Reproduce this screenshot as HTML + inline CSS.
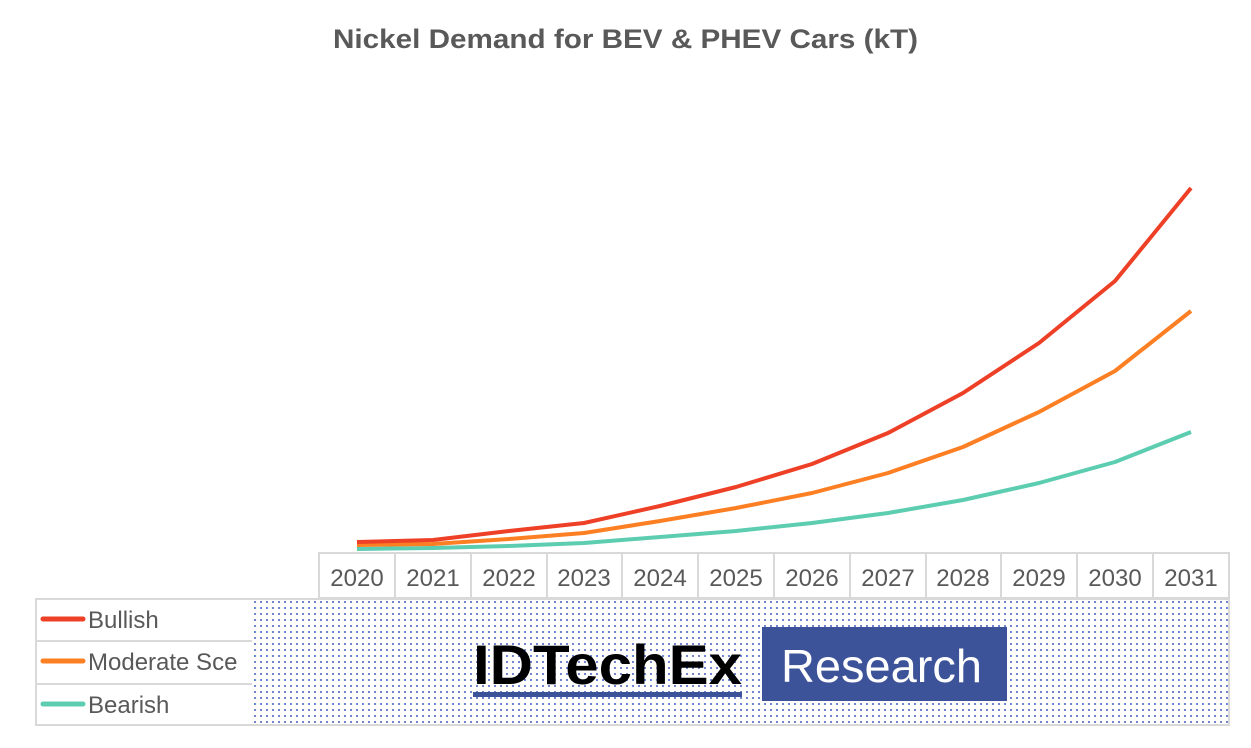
<!DOCTYPE html>
<html><head><style>
body{margin:0;background:#fff;width:1251px;height:748px;overflow:hidden;position:relative;font-family:"Liberation Sans",sans-serif;}
.dots{position:absolute;left:252px;top:599px;width:977px;height:126px;background-image:radial-gradient(circle,#4a63c0 0.8px,transparent 1.1px);background-size:6px 6px;}
</style></head><body>
<div class="dots"></div>
<svg width="1251" height="748" style="position:absolute;left:0;top:0">
<text x="333" y="48" font-size="27" font-weight="bold" fill="#595959" textLength="585" lengthAdjust="spacingAndGlyphs" font-family="Liberation Sans">Nickel Demand for BEV &amp; PHEV Cars (kT)</text>
<g stroke="#d9d9d9" stroke-width="2" fill="none">
<rect x="319" y="553" width="910" height="45"/>
<rect x="36" y="599" width="1193" height="126"/>
<line x1="36" y1="641" x2="252" y2="641"/>
<line x1="36" y1="684" x2="252" y2="684"/>
</g>
<g stroke="#d9d9d9" stroke-width="2">
<line x1="395" y1="553" x2="395" y2="598"/><line x1="471" y1="553" x2="471" y2="598"/><line x1="547" y1="553" x2="547" y2="598"/><line x1="622" y1="553" x2="622" y2="598"/><line x1="698" y1="553" x2="698" y2="598"/><line x1="774" y1="553" x2="774" y2="598"/><line x1="850" y1="553" x2="850" y2="598"/><line x1="926" y1="553" x2="926" y2="598"/><line x1="1001" y1="553" x2="1001" y2="598"/><line x1="1077" y1="553" x2="1077" y2="598"/><line x1="1153" y1="553" x2="1153" y2="598"/>
</g>
<g font-size="24" fill="#595959" text-anchor="middle" font-family="Liberation Sans">
<text x="357" y="586">2020</text><text x="433" y="586">2021</text><text x="509" y="586">2022</text><text x="584" y="586">2023</text><text x="660" y="586">2024</text><text x="736" y="586">2025</text><text x="812" y="586">2026</text><text x="888" y="586">2027</text><text x="963" y="586">2028</text><text x="1039" y="586">2029</text><text x="1115" y="586">2030</text><text x="1191" y="586">2031</text>
</g>
<g fill="none" stroke-width="4" stroke-linejoin="round">
<polyline stroke="#5ccdb0" points="357,549 433,548 509,546 584,543 660,537 736,531 812,523 888,513 963,500 1039,483 1115,462 1191,432"/>
<polyline stroke="#fd7f23" points="357,545 433,544 509,539 584,533 660,521 736,508 812,493 888,473 963,447 1039,412 1115,371 1191,311"/>
<polyline stroke="#ee4026" points="357,542 433,540 509,531 584,523 660,506 736,487 812,464 888,433 963,393 1039,343 1115,281 1191,188"/>
</g>
<g stroke-width="5" stroke-linecap="round">
<line x1="43" y1="619" x2="83" y2="619" stroke="#ee4026"/>
<line x1="43" y1="661" x2="83" y2="661" stroke="#fd7f23"/>
<line x1="43" y1="704" x2="83" y2="704" stroke="#5ccdb0"/>
</g>
<g font-size="24" fill="#595959" font-family="Liberation Sans">
<text x="88" y="628">Bullish</text>
<text x="88" y="670">Moderate Sce</text>
<text x="88" y="713">Bearish</text>
</g>
<rect x="252" y="641" width="30" height="43" fill="none"/>
<text x="473" y="684" font-size="56" font-weight="bold" fill="#000" textLength="269" lengthAdjust="spacingAndGlyphs" font-family="Liberation Sans">IDTechEx</text>
<rect x="473" y="692" width="269" height="5" fill="#3d5399"/>
<rect x="762" y="627" width="245" height="74" fill="#3d5399"/>
<text x="781" y="682" font-size="46" fill="#fff" textLength="201" lengthAdjust="spacingAndGlyphs" font-family="Liberation Sans">Research</text>
</svg>
</body></html>
